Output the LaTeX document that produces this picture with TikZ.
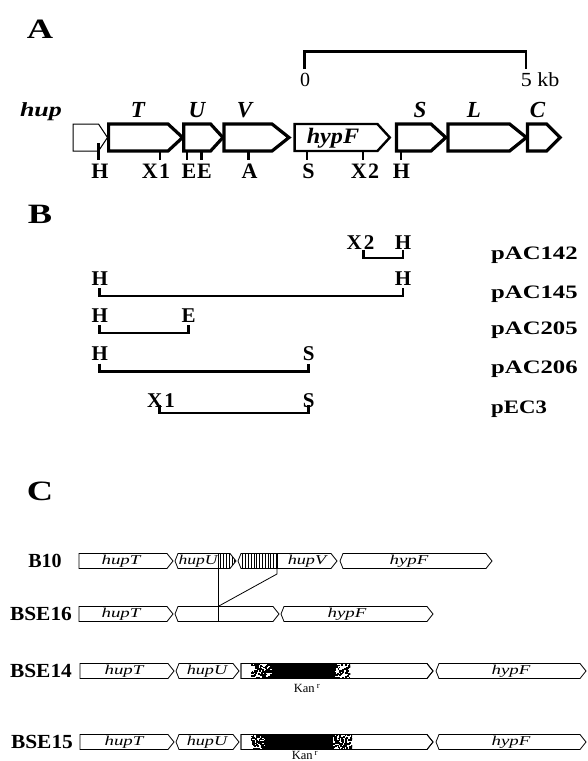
\documentclass[tikz,border=0pt]{standalone}
\usepackage{fontspec}
\setmainfont{Liberation Serif}
\usepackage{graphicx}
% horizontally widened text
\newcommand{\hs}[2]{\scalebox{#1}[1]{#2}}
% panel C gene boxes: square left end / wedge left end  (x0, tip, y centre)
\newcommand{\genebox}[3]{\draw[cbox] (#1,#3-7.5) -- (#2-6,#3-7.5) -- (#2,#3) -- (#2-6,#3+7.5) -- (#1,#3+7.5) -- cycle;}
\newcommand{\genewedge}[3]{\draw[cbox] (#1+3,#3-7.5) -- (#2-6,#3-7.5) -- (#2,#3) -- (#2-6,#3+7.5) -- (#1+3,#3+7.5) -- (#1,#3) -- cycle;}
% panel A open reading frames (x0, body end, tip)
\newcommand{\orfarrow}[4]{\draw[#4] (#1,124) -- (#2,124) -- (#3,137.5) -- (#2,151) -- (#1,151) -- cycle;}
% speckled band between x0 and x1 at row y
\newcommand{\speckle}[3]{%
  \begin{scope}
    \clip (#1,#3-7.5) rectangle (#2,#3+7.5);
    \pgfmathtruncatemacro{\nspk}{5*(#2-#1)}
    \foreach \i in {1,...,\nspk}{\fill ({#1-1+(#2-#1+1)*rnd},{#3-8.5+16*rnd}) rectangle ++(1.8,1.8);}
  \end{scope}}
% vertical hatching between x0 and x1 at row y
\newcommand{\vhatch}[3]{%
  \pgfmathtruncatemacro{\nhat}{(#2-#1)/2.8}
  \foreach \k in {0,...,\nhat}{\draw[line width=0.7pt] ({#1+2.8*\k},#3-7.5) -- ({#1+2.8*\k},#3+7.5);}}

\begin{document}
\begin{tikzpicture}[x=1pt,y=-1pt,
  panel/.style={inner sep=0pt,anchor=base,font=\fontsize{28}{28}\selectfont\bfseries},
  site/.style={inner sep=0pt,anchor=base,font=\fontsize{22}{22}\selectfont\bfseries},
  bsite/.style={inner sep=0pt,anchor=base,font=\fontsize{21}{21}\selectfont\bfseries},
  genelbl/.style={inner sep=0pt,anchor=base,font=\fontsize{23}{23}\selectfont\bfseries\itshape},
  scalelbl/.style={inner sep=0pt,anchor=base,font=\fontsize{20}{20}\selectfont},
  plasmid/.style={inner sep=0pt,anchor=base west,font=\fontsize{19}{19}\selectfont\bfseries},
  strain/.style={inner sep=0pt,anchor=base,font=\fontsize{20}{20}\selectfont\bfseries},
  cgene/.style={inner sep=0pt,font=\fontsize{13.5}{13.5}\selectfont\itshape},
  kan/.style={inner sep=0pt,font=\fontsize{12.5}{12.5}\selectfont},
  orf/.style={draw=black,line width=3.2pt,line join=miter,fill=white},
  thinorf/.style={draw=black,line width=1pt,line join=miter,fill=white},
  midorf/.style={draw=black,line width=2.4pt,line join=miter,fill=white},
  sitetick/.style={line width=2.8pt},
  bracket/.style={line width=2.8pt,line join=miter},
  cbox/.style={draw=black,line width=0.8pt,line join=miter,fill=white},
  link/.style={line width=0.8pt},
]
\useasboundingbox (0,0) rectangle (587,761);
\fill[white] (0,0) rectangle (587,761);

% ---------------- A: physical map ----------------
\node[panel] (labA) at (40,38) {\hs{1.3}{A}};

\coordinate (bar0) at (304.5,51.5);
\coordinate (bar1) at (526,51.5);
\draw[bracket] ([yshift=-17pt]bar0) -- (bar0) -- (bar1) -- ([yshift=-17pt]bar1);
\node[scalelbl] (zero) at (305,86) {0};
\node[scalelbl] (fivekb) at (540,86) {\hs{1.1}{5 kb}};

\node[genelbl,font=\fontsize{20}{20}\selectfont\bfseries\itshape] (hup) at (41,116) {\hs{1.3}{hup}};
\node[genelbl] (gT) at (138,117) {T};
\node[genelbl] (gU) at (197,117) {U};
\node[genelbl] (gV) at (244.5,117) {V};
\node[genelbl] (gS) at (420,117) {S};
\node[genelbl] (gL) at (474,117) {L};
\node[genelbl] (gC) at (537.5,117) {C};

\orfarrow{73}{98.5}{107.5}{thinorf}
\orfarrow{108.6}{168}{182.6}{orf}
\orfarrow{183.7}{210.6}{222.9}{orf}
\orfarrow{224}{272}{289}{orf}
\orfarrow{294.6}{377.4}{389.8}{midorf}
\orfarrow{396.5}{431}{445.8}{orf}
\orfarrow{448}{509.6}{526.4}{orf}
\orfarrow{527.5}{546.6}{560}{orf}
\node[genelbl,anchor=center,font=\fontsize{22}{22}\selectfont\bfseries\itshape] (hypFA) at (333,138) {\hs{1.1}{hypF}};

% restriction sites
\draw[sitetick] (98.5,143) -- (98.5,160);
\foreach \sx in {160,187,201.6,248.6,307,362.9,401}
  \draw[sitetick] (\sx,151) -- (\sx,160);
\node[site] (sH1) at (100,178.5) {H};
\node[site] (sX1) at (156,178.5) {X\kern1.5pt1};
\node[site] (sE1) at (189,178.5) {E};
\node[site] (sE2) at (204.5,178.5) {E};
\node[site] (sA) at (249.5,178.5) {A};
\node[site] (sS) at (308.5,178.5) {S};
\node[site] (sX2) at (365,178.5) {X\kern1.5pt2};
\node[site] (sH2) at (401.5,178.5) {H};

% ---------------- B: cloned fragments ----------------
\node[panel] (labB) at (40,223) {\hs{1.3}{B}};

% pAC142
\node[bsite] (b1l) at (360.5,249) {X\kern2pt2};
\node[bsite] (b1r) at (403,249) {H};
\draw[bracket] (363.5,250) -- (363.5,258) -- (403,258) -- (403,250);
\node[plasmid] (p142) at (491,259) {\hs{1.3}{pAC142}};
% pAC145
\node[bsite] (b2l) at (99.7,285) {H};
\node[bsite] (b2r) at (403,285) {H};
\draw[bracket] (99.7,288) -- (99.7,296) -- (403,296) -- (403,288);
\node[plasmid] (p145) at (491,298) {\hs{1.3}{pAC145}};
% pAC205
\node[bsite] (b3l) at (99.7,322) {H};
\node[bsite] (b3r) at (188.7,322) {E};
\draw[bracket] (99.7,325) -- (99.7,333) -- (188.7,333) -- (188.7,325);
\node[plasmid] (p205) at (491,334) {\hs{1.3}{pAC205}};
% pAC206
\node[bsite] (b4l) at (99.7,360) {H};
\node[bsite] (b4r) at (308.6,360) {S};
\draw[bracket] (99.7,363.5) -- (99.7,371.7) -- (308.6,371.7) -- (308.6,363.5);
\node[plasmid] (p206) at (491,373) {\hs{1.3}{pAC206}};
% pEC3
\node[bsite] (b5l) at (161,407) {X\kern2pt1};
\node[bsite] (b5r) at (308.6,407) {S};
\draw[bracket] (159.6,405) -- (159.6,413) -- (308.6,413) -- (308.6,405);
\node[plasmid] (pec3) at (491,413) {\hs{1.2}{pEC3}};

% ---------------- C: mutant constructions ----------------
\node[panel] (labC) at (40,500) {\hs{1.3}{C}};

% B10 (wild type)
\node[strain] (sB10) at (45,567.5) {B10};
\genebox{79}{173}{561}
\genewedge{175}{236}{561}
\begin{scope}
  \clip (175+3,553.5) -- (236-6,553.5) -- (236,561) -- (236-6,568.5) -- (175+3,568.5) -- cycle;
  \vhatch{218}{237}{561}
\end{scope}
\genewedge{238}{337}{561}
\begin{scope}
  \clip (241,553.5) rectangle (277,568.5);
  \vhatch{240}{277}{561}
\end{scope}
\draw[line width=0.8pt] (277,553.5) -- (277,568.5);
\genewedge{340}{492}{561}
\node[cgene] (c1a) at (121,561) {\hs{1.4}{hupT}};
\node[cgene] (c1b) at (198,561) {\hs{1.3}{hupU}};
\node[cgene] (c1c) at (307,561) {\hs{1.35}{hupV}};
\node[cgene] (c1d) at (409,561) {\hs{1.4}{hypF}};

% BSE16 (in-frame deletion)
\node[strain] (s16) at (41,620.5) {\hs{1.07}{BSE16}};
\genebox{79}{173}{614}
\genewedge{175}{279}{614}
\genewedge{281}{433}{614}
\node[cgene] (c2a) at (121,614) {\hs{1.4}{hupT}};
\node[cgene] (c2d) at (347,614) {\hs{1.4}{hypF}};
\coordinate (u0) at (218,568.5);
\coordinate (u1) at (218,621.5);
\coordinate (u2) at (218,606.5);
\coordinate (v0) at (277,568.5);
\coordinate (v1) at (277,574);
\draw[link] (u0) -- (u1);
\draw[link] (v0) -- (v1) -- (u2);

% BSE14 (kanamycin cassette)
\node[strain] (s14) at (41,677.5) {\hs{1.07}{BSE14}};
\genebox{80}{174}{671}
\genewedge{176}{239}{671}
\genebox{241}{433}{671}
\pgfmathsetseed{14}
\speckle{251}{272}{671}
\fill (272,663.5) rectangle (335,678.5);
\speckle{335}{350}{671}
\draw[line width=0.8pt,line join=miter] (241,663.5) -- (427,663.5) -- (433,671) -- (427,678.5) -- (241,678.5) -- cycle;
\genewedge{436}{586}{671}
\node[cgene] (c3a) at (124,671) {\hs{1.4}{hupT}};
\node[cgene] (c3b) at (207,671) {\hs{1.35}{hupU}};
\node[cgene] (c3d) at (511,671) {\hs{1.4}{hypF}};
\node[kan] (k14) at (307,688.5) {Kan\,$^{\mathrm{r}}$};

% BSE15 (kanamycin cassette, opposite orientation)
\node[strain] (s15) at (42,748.5) {\hs{1.07}{BSE15}};
\genebox{80}{174}{742}
\genewedge{176}{239}{742}
\genebox{241}{433}{742}
\pgfmathsetseed{15}
\speckle{251}{265}{742}
\fill (265,734.5) rectangle (333,749.5);
\speckle{333}{352}{742}
\draw[line width=0.8pt,line join=miter] (241,734.5) -- (427,734.5) -- (433,742) -- (427,749.5) -- (241,749.5) -- cycle;
\genewedge{436}{586}{742}
\node[cgene] (c4a) at (124,742) {\hs{1.4}{hupT}};
\node[cgene] (c4b) at (207,742) {\hs{1.35}{hupU}};
\node[cgene] (c4d) at (511,742) {\hs{1.4}{hypF}};
\node[kan] (k15) at (305,755.5) {Kan\,$^{\mathrm{r}}$};
\end{tikzpicture}
\end{document}
